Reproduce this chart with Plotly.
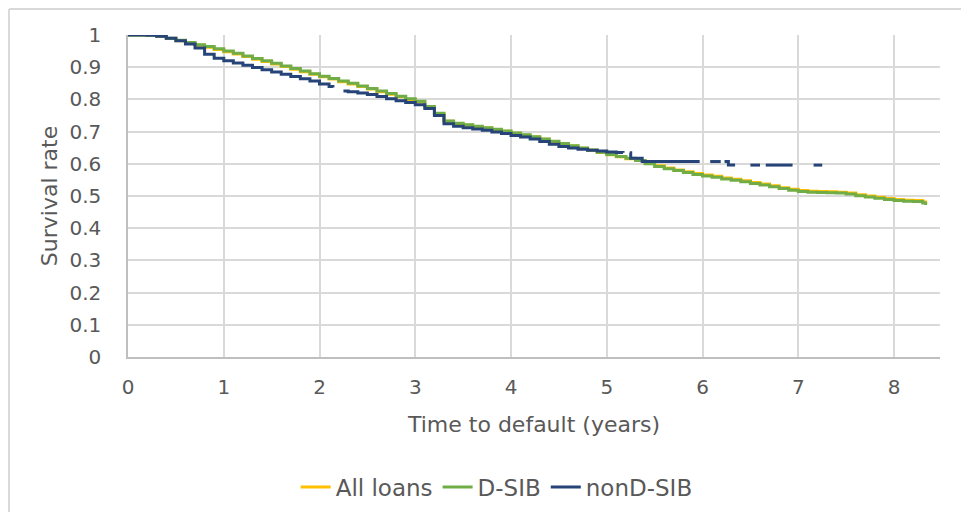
import plotly.graph_objects as go

# ---- data ----
time_years = [0, 0.1, 0.2, 0.3, 0.4, 0.5, 0.6, 0.7, 0.8, 0.9, 1.0, 1.1, 1.2, 1.3, 1.4, 1.5,
              1.6, 1.7, 1.8, 1.9, 2.0, 2.1, 2.2, 2.3, 2.4, 2.5, 2.6, 2.7, 2.8, 2.9, 3.0,
              3.1, 3.2, 3.3, 3.4, 3.5, 3.6, 3.7, 3.8, 3.9, 4.0, 4.1, 4.2, 4.3, 4.4, 4.5,
              4.6, 4.7, 4.8, 4.9, 5.0, 5.1, 5.2, 5.3, 5.4, 5.5, 5.6, 5.7, 5.8, 5.9, 6.0,
              6.1, 6.2, 6.3, 6.4, 6.5, 6.6, 6.7, 6.8, 6.9, 7.0, 7.1, 7.2, 7.3, 7.4, 7.5,
              7.6, 7.7, 7.8, 7.9, 8.0, 8.1, 8.2, 8.3, 8.33]
all_loans = [1.0, 1.0, 0.999, 0.995, 0.989, 0.982, 0.975, 0.968, 0.962, 0.955, 0.948,
             0.941, 0.933, 0.925, 0.918, 0.91, 0.902, 0.894, 0.886, 0.878, 0.87, 0.863,
             0.855, 0.848, 0.84, 0.832, 0.824, 0.816, 0.808, 0.8, 0.792, 0.776, 0.755,
             0.732, 0.725, 0.72, 0.716, 0.711, 0.706, 0.701, 0.695, 0.689, 0.683, 0.676,
             0.669, 0.662, 0.655, 0.648, 0.642, 0.635, 0.628, 0.622, 0.616, 0.61, 0.601,
             0.594, 0.587, 0.581, 0.575, 0.57, 0.565, 0.561, 0.556, 0.552, 0.547, 0.542,
             0.537, 0.532, 0.526, 0.521, 0.517, 0.515, 0.514, 0.513, 0.512, 0.509, 0.504,
             0.5, 0.496, 0.492, 0.489, 0.487, 0.486, 0.481, 0.475]
dsib = [1.0, 1.0, 0.999, 0.996, 0.99, 0.984, 0.977, 0.97, 0.964, 0.957, 0.95, 0.943,
        0.935, 0.927, 0.92, 0.912, 0.904, 0.896, 0.888, 0.88, 0.872, 0.865, 0.857, 0.85,
        0.842, 0.834, 0.826, 0.818, 0.81, 0.802, 0.794, 0.778, 0.757, 0.733, 0.726,
        0.721, 0.717, 0.712, 0.707, 0.702, 0.696, 0.69, 0.684, 0.677, 0.67, 0.663, 0.656,
        0.649, 0.643, 0.636, 0.629, 0.623, 0.617, 0.61, 0.6, 0.592, 0.585, 0.579, 0.573,
        0.567, 0.562, 0.558, 0.553, 0.549, 0.544, 0.539, 0.534, 0.529, 0.523, 0.518,
        0.514, 0.512, 0.511, 0.51, 0.509, 0.506, 0.501, 0.497, 0.493, 0.489, 0.486,
        0.484, 0.483, 0.478, 0.472]

time_nondsib = [0, 0.1, 0.2, 0.3, 0.4, 0.5, 0.6, 0.7, 0.8, 0.9, 1.0, 1.1, 1.2, 1.3, 1.4,
                1.5, 1.6, 1.7, 1.8, 1.9, 2.0, 2.1, 2.14, 2.15, 2.25, 2.3, 2.4, 2.5, 2.6,
                2.7, 2.8, 2.9, 3.0, 3.1, 3.2, 3.3, 3.4, 3.5, 3.6, 3.7, 3.8, 3.9, 4.0, 4.1,
                4.2, 4.3, 4.4, 4.5, 4.6, 4.7, 4.8, 4.9, 5.0, 5.1, 5.17, 5.18, 5.24, 5.25,
                5.37, 5.97, 5.98, 6.08, 6.19, 6.2, 6.23, 6.27, 6.34, 6.35, 6.5, 6.6, 6.61,
                6.66, 6.94, 6.95, 7.16, 7.25]
nondsib = [1.0, 1.0, 0.999, 0.996, 0.99, 0.982, 0.972, 0.96, 0.94, 0.928, 0.92, 0.913,
           0.906, 0.899, 0.892, 0.885, 0.878, 0.871, 0.864, 0.857, 0.848, 0.84, 0.837,
           None, 0.826, 0.824, 0.82, 0.815, 0.809, 0.802, 0.796, 0.79, 0.783, 0.772,
           0.75, 0.724, 0.717, 0.712, 0.708, 0.704, 0.699, 0.694, 0.688, 0.683, 0.677,
           0.669, 0.661, 0.654, 0.649, 0.645, 0.642, 0.64, 0.637, 0.635, 0.634, None,
           0.634, 0.617, 0.607, 0.607, None, 0.607, 0.607, None, 0.607, 0.596, 0.596,
           None, 0.596, 0.596, None, 0.596, 0.596, None, 0.596, 0.596]

x_ticks = [0, 1, 2, 3, 4, 5, 6, 7, 8]
y_ticks = [0, 0.1, 0.2, 0.3, 0.4, 0.5, 0.6, 0.7, 0.8, 0.9, 1]
y_tick_labels = ["0", "0.1", "0.2", "0.3", "0.4", "0.5", "0.6", "0.7", "0.8", "0.9", "1"]

series = [
    ("All loans", time_years, all_loans, "#FFC000"),
    ("D-SIB", time_years, dsib, "#70AD47"),
    ("nonD-SIB", time_nondsib, nondsib, "#264478"),
]

FONT = "DejaVu Sans"
TXT = "#595959"

fig = go.Figure()
for name, xs, ys, col in series:
    fig.add_trace(go.Scatter(
        x=xs, y=ys, name=name, mode="lines",
        line=dict(color=col, width=3, shape="hv"),
        connectgaps=False,
    ))

fig.update_layout(
    width=961, height=504,
    margin=dict(l=120, r=29, t=27, b=155, autoexpand=False),
    paper_bgcolor="white", plot_bgcolor="white",
    font=dict(family=FONT, color=TXT, size=20),
    showlegend=True,
    legend=dict(orientation="h", x=0.454, xanchor="center", y=-0.404, yanchor="middle",
                font=dict(size=23, color=TXT), traceorder="normal",
                bgcolor="rgba(0,0,0,0)"),
    xaxis=dict(range=[0, 8.48], tickvals=x_ticks, showgrid=True, gridcolor="#d9d9d9",
               gridwidth=1.5, zeroline=False, showline=True, linecolor="#bfbfbf",
               linewidth=1.5, ticks="", tickfont=dict(size=20, color=TXT),
               ticklabelstandoff=11, automargin=False,
               title=dict(text="Time to default (years)", font=dict(size=22, color=TXT),
                          standoff=19)),
    yaxis=dict(range=[0, 1], tickvals=y_ticks, ticktext=y_tick_labels, showgrid=True,
               gridcolor="#d9d9d9", gridwidth=1.5, zeroline=False, showline=True,
               linecolor="#bfbfbf", linewidth=1.5, ticks="", tickfont=dict(size=20, color=TXT),
               ticklabelstandoff=21, automargin=False,
               title=dict(text="Survival rate", font=dict(size=22, color=TXT), standoff=6)),
    shapes=[
        dict(type="line", xref="paper", yref="paper", x0=-0.1466, x1=1.1, y0=1.0807, y1=1.0807,
             line=dict(color="#d9d9d9", width=2)),
        dict(type="line", xref="paper", yref="paper", x0=-0.1466, x1=-0.1466, y0=1.0807, y1=-0.5,
             line=dict(color="#d9d9d9", width=2)),
    ],
)

fig.write_html("out.html")
